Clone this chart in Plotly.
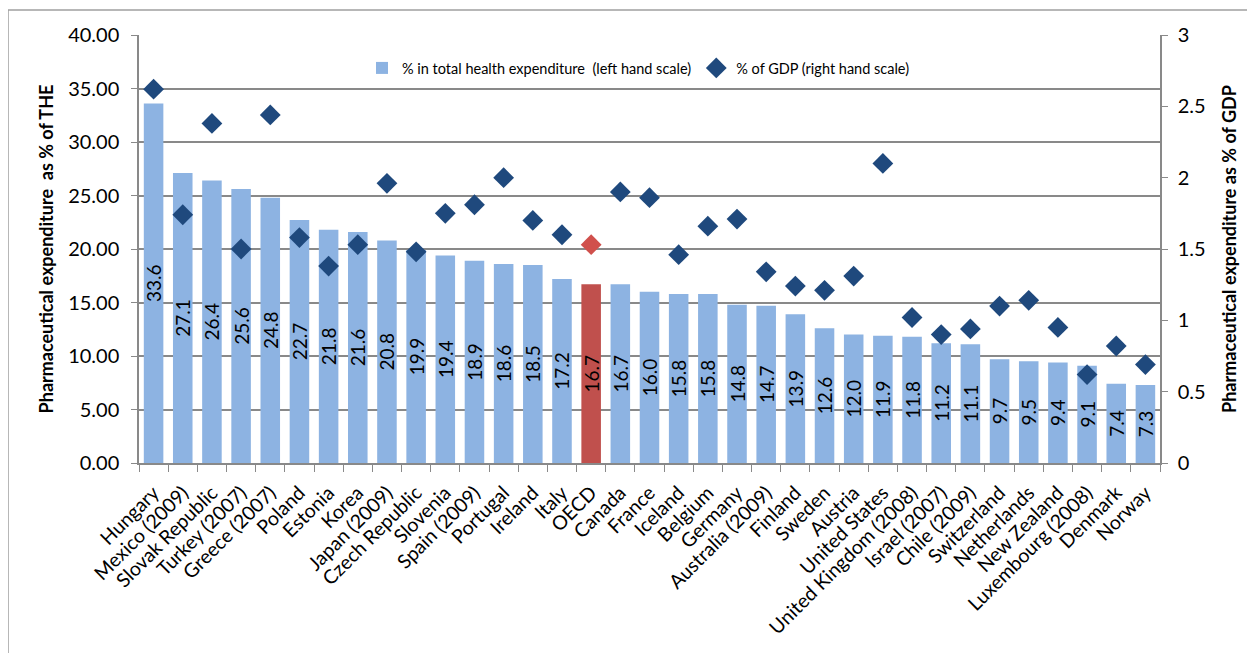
import plotly.graph_objects as go

countries = ["Hungary", "Mexico (2009)", "Slovak Republic", "Turkey (2007)", "Greece (2007)",
             "Poland", "Estonia", "Korea", "Japan (2009)", "Czech Republic", "Slovenia",
             "Spain (2009)", "Portugal", "Ireland", "Italy", "OECD", "Canada", "France",
             "Iceland", "Belgium", "Germany", "Australia (2009)", "Finland", "Sweden",
             "Austria", "United States", "United Kingdom (2008)", "Israel (2007)",
             "Chile (2009)", "Switzerland", "Netherlands", "New Zealand",
             "Luxembourg (2008)", "Denmark", "Norway"]
pct_the = [33.6, 27.1, 26.4, 25.6, 24.8, 22.7, 21.8, 21.6, 20.8, 19.9, 19.4, 18.9, 18.6,
           18.5, 17.2, 16.7, 16.7, 16.0, 15.8, 15.8, 14.8, 14.7, 13.9, 12.6, 12.0, 11.9,
           11.8, 11.2, 11.1, 9.7, 9.5, 9.4, 9.1, 7.4, 7.3]
pct_gdp = [2.62, 1.74, 2.38, 1.50, 2.44, 1.58, 1.38, 1.53, 1.96, 1.48, 1.75, 1.81, 2.00,
           1.70, 1.60, 1.53, 1.90, 1.86, 1.46, 1.66, 1.71, 1.34, 1.24, 1.21, 1.31, 2.10,
           1.02, 0.90, 0.94, 1.10, 1.14, 0.95, 0.62, 0.82, 0.69]
left_ticks = [0, 5, 10, 15, 20, 25, 30, 35, 40]
right_ticks = [0, 0.5, 1, 1.5, 2, 2.5, 3]

BLUE = "#8DB3E2"
RED = "#C0504D"
DARK = "#1F497D"
DRED = "#D0504C"
bar_colors = [RED if c == "OECD" else BLUE for c in countries]
dia_colors = [DRED if c == "OECD" else DARK for c in countries]

FONT = "Lato"
GRID = "#898989"

# page body has an 8px margin; figure is sized to fit the window
W, H = 1247, 645
L, T, R, B = 131, 27, 95, 190
PW, PH = W - L - R, H - T - B

fig = go.Figure()
fig.add_trace(go.Bar(
    x=countries, y=pct_the, name="% in total health expenditure  (left hand scale)",
    marker=dict(color=bar_colors, line=dict(width=0)),
    texttemplate="%{y:.1f}", textposition="inside", textangle=-90,
    insidetextanchor="middle", textfont=dict(family=FONT, size=19, color="black"),
    constraintext="none", yaxis="y",
))
fig.add_trace(go.Scatter(
    x=countries, y=pct_gdp, name="% of GDP (right hand scale)", mode="markers",
    marker=dict(symbol="diamond", size=16, color=dia_colors),
    yaxis="y2",
))

fig.update_layout(
    width=W, height=H,
    margin=dict(l=L, r=R, t=T, b=B, autoexpand=False),
    paper_bgcolor="white", plot_bgcolor="white",
    font=dict(family=FONT, color="black"),
    bargap=0.33,
    showlegend=True,
    legend=dict(orientation="h", x=(362 - 8 - L) / PW, xanchor="left",
                y=(T + PH - (68 - 8)) / PH, yanchor="middle",
                font=dict(family=FONT, size=14.5), bgcolor="rgba(0,0,0,0)",
                itemwidth=30, tracegroupgap=0),
    xaxis=dict(
        type="category", tickangle=-45, tickfont=dict(family=FONT, size=19.5),
        showline=True, linecolor=GRID, linewidth=1.5,
        ticks="outside", tickson="boundaries", ticklen=7, tickcolor=GRID,
        ticklabelstandoff=9,
        showgrid=False, range=[-0.5, len(countries) - 0.5],
    ),
    yaxis=dict(
        range=[0, 40], tickvals=left_ticks, tickformat=".2f",
        tickfont=dict(family=FONT, size=20),
        showgrid=True, gridcolor=GRID, gridwidth=1.5,
        showline=True, linecolor=GRID, linewidth=1.5,
        ticks="outside", ticklen=6, tickcolor=GRID, ticklabelstandoff=8,
        zeroline=False,
        title=dict(text="<b>Pharmaceutical expenditure  as % of THE</b>",
                   font=dict(family=FONT, size=18), standoff=10),
    ),
    yaxis2=dict(
        range=[0, 3], tickvals=right_ticks, overlaying="y", side="right",
        tickfont=dict(family=FONT, size=20),
        showgrid=False, showline=True, linecolor=GRID, linewidth=1.5,
        ticks="outside", ticklen=6, tickcolor=GRID, ticklabelstandoff=6,
        zeroline=False,
        title=dict(text="<b>Pharmaceutical expenditure as % of GDP</b>",
                   font=dict(family=FONT, size=18), standoff=19),
    ),
    shapes=[dict(type="rect", xref="paper", yref="paper",
                 x0=(0 - L) / PW, x1=(W + 10 - L) / PW,
                 y0=(T + PH - (H + 40)) / PH, y1=(T + PH - 2) / PH,
                 line=dict(color="#A0A0A0", width=1.5), fillcolor="rgba(0,0,0,0)",
                 layer="below")],
)

fig.write_html("out.html")
